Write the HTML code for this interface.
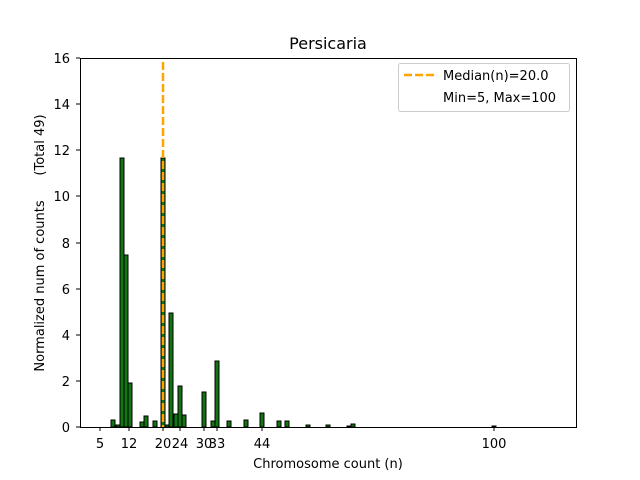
<!DOCTYPE html>
<html><head><style>body{margin:0;background:#fff}svg{display:block}text{font-family:"DejaVu Sans","Liberation Sans",sans-serif;font-size:13px;fill:#000}</style></head><body>
<svg width="640" height="480" viewBox="0 0 640 480">
<rect width="640" height="480" fill="#fff"/>
<g fill="#127512" stroke="#000" stroke-width="1">
<rect x="111" y="420" width="4" height="7"/>
<rect x="116" y="425" width="4" height="2"/>
<rect x="120" y="158" width="4" height="269"/>
<rect x="124" y="255" width="4" height="172"/>
<rect x="128" y="383" width="4" height="44"/>
<rect x="140" y="422" width="4" height="5"/>
<rect x="144" y="416" width="4" height="11"/>
<rect x="153" y="421" width="4" height="6"/>
<rect x="161" y="158" width="4" height="269"/>
<rect x="165" y="425" width="4" height="2"/>
<rect x="169" y="313" width="4" height="114"/>
<rect x="174" y="414" width="4" height="13"/>
<rect x="178" y="386" width="4" height="41"/>
<rect x="182" y="415" width="4" height="12"/>
<rect x="202" y="392" width="4" height="35"/>
<rect x="211" y="421" width="4" height="6"/>
<rect x="215" y="361" width="4" height="66"/>
<rect x="227" y="421" width="4" height="6"/>
<rect x="244" y="420" width="4" height="7"/>
<rect x="260" y="413" width="4" height="14"/>
<rect x="277" y="421" width="4" height="6"/>
<rect x="285" y="421" width="4" height="6"/>
<rect x="306" y="425" width="4" height="2"/>
<rect x="326" y="425" width="4" height="2"/>
<rect x="347" y="426" width="4" height="1"/>
<rect x="351" y="424" width="4" height="3"/>
<rect x="492" y="426" width="4" height="1"/>
</g>
<line x1="163" y1="62" x2="163" y2="427" stroke="#ffa500" stroke-width="2.5" stroke-dasharray="8,3"/>
<rect x="80.5" y="58.5" width="496" height="369" fill="none" stroke="#000" stroke-width="1"/>
<g stroke="#000">
<line x1="100" y1="427" x2="100" y2="431"/><line x1="129" y1="427" x2="129" y2="431"/><line x1="163" y1="427" x2="163" y2="431"/><line x1="180" y1="427" x2="180" y2="431"/><line x1="204" y1="427" x2="204" y2="431"/><line x1="217" y1="427" x2="217" y2="431"/><line x1="262" y1="427" x2="262" y2="431"/><line x1="494" y1="427" x2="494" y2="431"/>
<line x1="76" y1="427" x2="80" y2="427"/><line x1="76" y1="381" x2="80" y2="381"/><line x1="76" y1="335" x2="80" y2="335"/><line x1="76" y1="289" x2="80" y2="289"/><line x1="76" y1="243" x2="80" y2="243"/><line x1="76" y1="196" x2="80" y2="196"/><line x1="76" y1="150" x2="80" y2="150"/><line x1="76" y1="104" x2="80" y2="104"/><line x1="76" y1="58" x2="80" y2="58"/>
</g>
<g text-anchor="middle">
<text x="100" y="448">5</text><text x="129" y="448">12</text><text x="163" y="448">20</text><text x="180" y="448">24</text><text x="204" y="448">30</text><text x="217" y="448">33</text><text x="262" y="448">44</text><text x="494" y="448">100</text>
</g>
<g text-anchor="end">
<text x="70" y="432">0</text><text x="70" y="386">2</text><text x="70" y="340">4</text><text x="70" y="294">6</text><text x="70" y="248">8</text><text x="70" y="201">10</text><text x="70" y="155">12</text><text x="70" y="109">14</text><text x="70" y="63">16</text>
</g>
<text x="328" y="468" text-anchor="middle">Chromosome count (n)</text>
<text x="328" y="49" text-anchor="middle" style="font-size:16px">Persicaria</text>
<text transform="translate(44,243) rotate(-90)" text-anchor="middle" xml:space="preserve">Normalized num of counts      (Total 49)</text>
<rect x="398.5" y="63.5" width="171" height="48" rx="2" fill="#fff" fill-opacity="0.8" stroke="#ccc"/>
<line x1="404" y1="75" x2="434" y2="75" stroke="#ffa500" stroke-width="2.5" stroke-dasharray="8,3"/>
<text x="443" y="80">Median(n)=20.0</text>
<text x="443" y="102">Min=5, Max=100</text>
</svg>
</body></html>
